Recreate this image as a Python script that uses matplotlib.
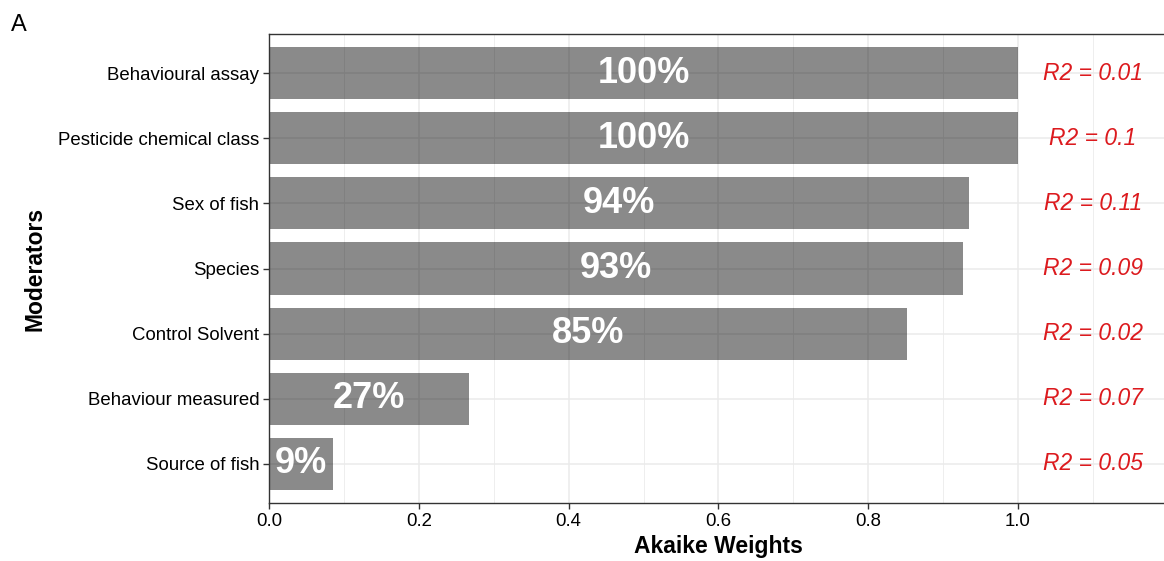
import numpy as np
import matplotlib
matplotlib.use("Agg")
import matplotlib.pyplot as plt
from matplotlib.ticker import MultipleLocator

plt.rcParams['font.family'] = ['Liberation Sans', 'DejaVu Sans']

# Akaike weights per moderator, top to bottom
moderators = ["Behavioural assay", "Pesticide chemical class", "Sex of fish",
              "Species", "Control Solvent", "Behaviour measured", "Source of fish"]
weights = [1.00, 1.00, 0.934, 0.927, 0.852, 0.267, 0.085]
pct_labels = ["100%", "100%", "94%", "93%", "85%", "27%", "9%"]
r2_labels = ["R2 = 0.01", "R2 = 0.1", "R2 = 0.11", "R2 = 0.09",
             "R2 = 0.02", "R2 = 0.07", "R2 = 0.05"]
r2_x = 1.1

fig = plt.figure(figsize=(11.64, 5.61), dpi=100)
ax = fig.add_axes([269/1164, 58/561, 1.2*749/1164, 469/561])

y = np.arange(len(moderators))[::-1]
ax.barh(y, weights, height=0.8, color='black', alpha=0.46, zorder=2)

for yi, w, p, r in zip(y, weights, pct_labels, r2_labels):
    ax.text(w/2, yi, p, ha='center', va='center', color='white',
            fontsize=26, fontweight='bold', zorder=3)
    ax.text(r2_x, yi, r, ha='center', va='center', color='#dc1a1e',
            fontsize=16.5, style='italic', zorder=3)

ax.set_xlim(0, 1.2)
ax.set_ylim(-0.6, len(moderators) - 0.4)
ax.set_yticks(y)
ax.set_yticklabels(moderators)
ax.xaxis.set_minor_locator(MultipleLocator(0.1))
ax.set_xticks([0.0, 0.2, 0.4, 0.6, 0.8, 1.0])
ax.set_xticklabels(["0.0", "0.2", "0.4", "0.6", "0.8", "1.0"])

# light grid like a bw theme, major at ticks, minor between them
ax.grid(which='major', color='#ebebeb', linewidth=1.1, zorder=0)
ax.grid(which='minor', axis='x', color='#ebebeb', linewidth=0.6, zorder=0)
ax.set_axisbelow(True)
ax.tick_params(which='major', length=4, width=1, color='#333333',
               labelsize=13.4, labelcolor='black', pad=3)
ax.tick_params(which='minor', length=0)
for s in ax.spines.values():
    s.set_color('#333333')
    s.set_linewidth(1)

ax.set_xlabel("Akaike Weights", fontsize=16.5, fontweight='bold', labelpad=4)
ax.set_ylabel("Moderators", fontsize=16.5, fontweight='bold', labelpad=8)

fig.text(11/1164, 1 - 31/561, "A", fontsize=17, ha='left', va='baseline')

fig.savefig("out.png", dpi=100)
